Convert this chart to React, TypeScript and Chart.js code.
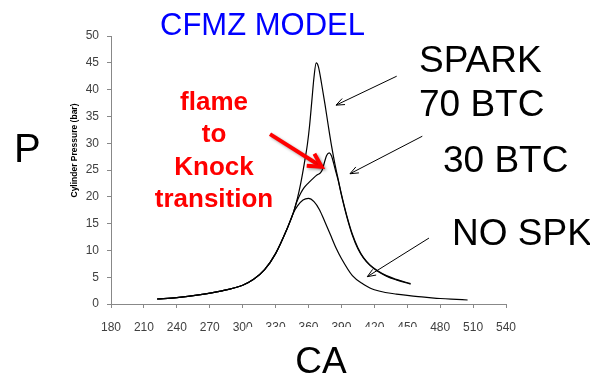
import React, { useEffect, useRef } from "react";
import { Chart, registerables } from "chart.js";

Chart.register(...registerables);

// Crank angle (deg) and cylinder pressure (bar)
const noSparkCA = [222, 240, 260, 280, 300, 310, 320, 330, 340, 346, 350, 355, 360, 365, 370, 375, 380, 385, 390, 400, 410, 416, 420, 430, 440, 450, 460, 470, 480, 490, 505];
const noSparkP = [0.93, 1.2, 1.7, 2.4, 3.5, 4.6, 6.4, 9.4, 13.8, 16.9, 18.3, 19.4, 19.7, 19.1, 17.6, 15.3, 12.9, 10.5, 8.5, 5.3, 3.7, 3.0, 2.65, 2.15, 1.85, 1.6, 1.38, 1.2, 1.03, 0.9, 0.75];

const spark70CA = [222, 240, 260, 280, 300, 310, 320, 330, 340, 346, 350, 353, 356, 359, 361, 363, 365, 367, 369, 372, 375, 378, 381, 384, 387, 390, 395, 400, 405, 410, 416, 423, 431, 440, 453];
const spark70P = [0.93, 1.2, 1.7, 2.4, 3.5, 4.6, 6.4, 9.4, 13.8, 16.9, 19.8, 22.6, 26.0, 29.8, 33.3, 37.8, 42.3, 45.0, 44.3, 41.0, 37.3, 33.3, 29.5, 26.2, 23.3, 20.5, 16.4, 13.0, 10.5, 8.7, 7.3, 6.2, 5.3, 4.6, 3.8];

const spark30CA = [222, 240, 260, 280, 300, 310, 320, 330, 340, 346, 349, 353, 356, 360, 364, 368, 370.5, 372.5, 374.5, 376.5, 379, 381, 383, 385, 387, 390, 395, 400, 405, 410, 416, 423, 431, 440, 453];
const spark30P = [0.93, 1.2, 1.7, 2.4, 3.5, 4.6, 6.4, 9.4, 13.8, 16.9, 18.9, 20.7, 21.7, 22.6, 23.4, 24.1, 24.4, 25.0, 26.4, 27.7, 28.2, 27.6, 26.2, 24.6, 23.1, 20.3, 16.2, 12.8, 10.3, 8.6, 7.2, 6.1, 5.2, 4.5, 3.7];

const xTickMin = 180;
const xTickMax = 540;
const xTickStep = 30;
const yTickMin = 0;
const yTickMax = 50;
const yTickStep = 5;

const titleText = "CFMZ MODEL";
const yAxisTitle = "Cylinder Pressure (bar)";
const redLines = ["flame", "to", "Knock", "transition"];

// arrows in data coordinates: [fromCA, fromP, toCA, toP]
const sparkArrow = [440.4, 42.5, 385.1, 37.1];
const btc30Arrow = [463.7, 31.3, 397.8, 24.3];
const noSpkArrow = [469.8, 12.3, 413.6, 5.1];
const redArrow = [324.9, 31.7, 372.0, 25.6];

const toPoints = (xs: number[], ys: number[]) => xs.map((x, i) => ({ x, y: ys[i] }));

const SANS = '"Liberation Sans", Arial, sans-serif';

function drawArrow(ctx: CanvasRenderingContext2D, x1: number, y1: number, x2: number, y2: number, headLen: number, headAngle: number) {
  const ang = Math.atan2(y2 - y1, x2 - x1);
  ctx.beginPath();
  ctx.moveTo(x1, y1);
  ctx.lineTo(x2, y2);
  ctx.stroke();
  ctx.beginPath();
  ctx.moveTo(x2 - headLen * Math.cos(ang - headAngle), y2 - headLen * Math.sin(ang - headAngle));
  ctx.lineTo(x2, y2);
  ctx.lineTo(x2 - headLen * Math.cos(ang + headAngle), y2 - headLen * Math.sin(ang + headAngle));
  ctx.stroke();
}

const annotationPlugin = {
  id: "annotations",
  afterDraw(chart: any) {
    const ctx: CanvasRenderingContext2D = chart.ctx;
    const xs = chart.scales.x;
    const ys = chart.scales.y;
    const px = (v: number) => xs.getPixelForValue(v);
    const py = (v: number) => ys.getPixelForValue(v);
    ctx.save();

    // white text box (CA label) partly covering tick labels
    ctx.fillStyle = "#ffffff";
    ctx.fillRect(247, 327, 171, 48);

    // title
    ctx.fillStyle = "#0000ff";
    ctx.font = `31px ${SANS}`;
    ctx.textAlign = "left";
    ctx.textBaseline = "alphabetic";
    ctx.fillText(titleText, 160, 35);

    // axis letters
    ctx.fillStyle = "#000000";
    ctx.font = `40px ${SANS}`;
    ctx.fillText("P", 14, 162);
    ctx.font = `37px ${SANS}`;
    ctx.textAlign = "center";
    ctx.fillText("CA", 321, 373);

    // curve labels
    ctx.textAlign = "left";
    ctx.font = `37px ${SANS}`;
    ctx.fillText("SPARK", 419, 72);
    ctx.fillText("70 BTC", 419, 116);
    ctx.fillText("30 BTC", 443, 172);
    ctx.fillText("NO SPK", 452, 245);

    // y axis title
    ctx.save();
    ctx.translate(77, 150.5);
    ctx.rotate(-Math.PI / 2);
    ctx.textAlign = "center";
    ctx.font = `bold 8.5px ${SANS}`;
    ctx.fillStyle = "#000000";
    ctx.fillText(yAxisTitle, 0, 0);
    ctx.restore();

    // red text
    ctx.fillStyle = "#ff0000";
    ctx.font = `bold 26px ${SANS}`;
    ctx.textAlign = "center";
    const baselines = [110, 142, 175, 207];
    redLines.forEach((t, i) => ctx.fillText(t, 214, baselines[i]));

    // thin black arrows
    ctx.strokeStyle = "#000000";
    ctx.lineWidth = 1;
    [sparkArrow, btc30Arrow, noSpkArrow].forEach((a) => {
      drawArrow(ctx, px(a[0]), py(a[1]), px(a[2]), py(a[3]), 9, 0.38);
    });

    // red thick arrow with shadow
    ctx.save();
    ctx.shadowColor = "rgba(0,0,0,0.35)";
    ctx.shadowBlur = 3;
    ctx.shadowOffsetX = 1.5;
    ctx.shadowOffsetY = 1.5;
    ctx.strokeStyle = "#ff0000";
    ctx.lineWidth = 4;
    ctx.lineJoin = "miter";
    ctx.lineCap = "butt";
    drawArrow(ctx, px(redArrow[0]), py(redArrow[1]), px(redArrow[2]), py(redArrow[3]), 15, 0.5);
    ctx.restore();

    ctx.restore();
  },
};

export default function App() {
  const canvasRef = useRef<HTMLCanvasElement | null>(null);

  useEffect(() => {
    if (!canvasRef.current) return;
    const lineStyle = {
      borderColor: "#000000",
      borderWidth: 1.2,
      pointRadius: 0,
      fill: false,
      cubicInterpolationMode: "monotone" as const,
    };
    const chart = new Chart(canvasRef.current, {
      type: "line",
      data: {
        datasets: [
          { label: "NO SPK", data: toPoints(noSparkCA, noSparkP), ...lineStyle },
          { label: "30 BTC", data: toPoints(spark30CA, spark30P), ...lineStyle },
          { label: "SPARK 70 BTC", data: toPoints(spark70CA, spark70P), ...lineStyle },
        ],
      },
      options: {
        animation: false,
        responsive: false,
        devicePixelRatio: 1,
        layout: { padding: { left: 71, right: 84, top: 36, bottom: 0 } },
        plugins: { legend: { display: false }, tooltip: { enabled: false } },
        scales: {
          x: {
            type: "linear",
            min: xTickMin,
            max: xTickMax,
            afterFit: (s: any) => { s.height = 71; },
            ticks: { stepSize: xTickStep, color: "#404040", font: { size: 12, family: SANS }, padding: 12, maxRotation: 0 },
            grid: { display: true, drawOnChartArea: false, drawTicks: true, tickLength: 4, color: "#888888" },
            border: { color: "#888888" },
          },
          y: {
            type: "linear",
            min: yTickMin,
            max: yTickMax,
            afterFit: (s: any) => { s.width = 40; },
            ticks: { stepSize: yTickStep, color: "#404040", font: { size: 12, family: SANS }, padding: 8 },
            grid: { display: true, drawOnChartArea: false, drawTicks: true, tickLength: 4, color: "#888888" },
            border: { color: "#888888" },
          },
        },
      },
      plugins: [annotationPlugin],
    });
    return () => chart.destroy();
  }, []);

  return (
    <canvas
      ref={canvasRef}
      width={590}
      height={375}
      style={{ position: "absolute", left: 0, top: 0, width: 590, height: 375 }}
    />
  );
}
